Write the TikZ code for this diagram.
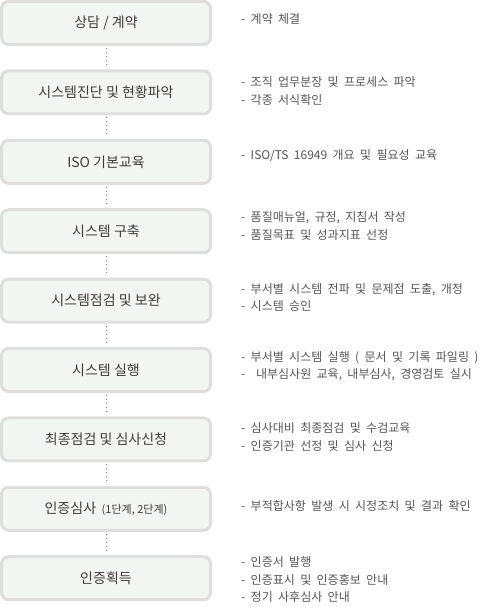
\documentclass[tikz,border=0pt]{standalone}
\usepackage{fontspec}
\setmainfont{Noto Sans CJK KR}
\newfontfamily\notefont[WordSpace=2]{Noto Sans CJK KR}
\definecolor{boxline}{HTML}{DEDEDE}
\definecolor{boxfill}{HTML}{F2F6F2}
\definecolor{labelgray}{HTML}{3C3C3C}
\definecolor{notegray}{HTML}{555555}
\definecolor{dotgray}{HTML}{8C8C8C}
\begin{document}
\begin{tikzpicture}[x=1pt,y=-1pt,
    stepbox/.style={draw=boxline, line width=3pt, fill=boxfill,
      rounded corners=7pt, minimum width=209pt, minimum height=43pt,
      inner sep=0pt, text=labelgray, font=\fontsize{14}{16}\selectfont},
    note/.style={anchor=west, align=left, inner sep=0pt, text=notegray,
      font=\notefont\fontsize{12}{17.5}\selectfont},
    link/.style={dotgray, line width=1pt, dash pattern=on 1pt off 3pt,
      shorten <=2pt, shorten >=2pt}]
    \useasboundingbox (0,0) rectangle (496,607) ;
    \def\P{69.4}
    % process steps
    \foreach \i/\txt in {0/{상담 / 계약}, 1/{시스템진단 및 현황파악},
      2/{ISO 기본교육}, 3/{시스템 구축}, 4/{시스템점검 및 보완},
      5/{시스템 실행}, 6/{최종점검 및 심사신청},
      7/{인증심사 {\fontsize{11}{12}\selectfont ~(1단계, 2단계)}},
      8/{인증획득}} {
      \node [stepbox] (s\i) at (106,{23+\P*\i}) {\txt} ;
    }
    \foreach \i in {0,...,7} { \pgfmathtruncatemacro\j{\i+1}
      \draw [link] (s\i.south) -- (s\j.north) ;
    }
    % notes
    \node [note] (n0) at (241,19) {- 계약 체결} ;
    \node [note] (n1) at (241,91) {- 조직 업무분장 및 프로세스 파악\\- 각종 서식확인} ;
    \node [note] (n2) at (241,156) {- ISO/TS 16949 개요 및 필요성 교육} ;
    \node [note] (n3) at (241,226) {- 품질매뉴얼, 규정, 지침서 작성\\- 품질목표 및 성과지표 선정} ;
    \node [note] (n4) at (241,297.5) {- 부서별 시스템 전파 및 문제점 도출, 개정\\- 시스템 승인} ;
    \node [note] (n5) at (241,366) {- 부서별 시스템 실행 ( 문서 및 기록 파일링 )\\-~ 내부심사원 교육, 내부심사, 경영검토 실시} ;
    \node [note] (n6) at (241,437) {- 심사대비 최종점검 및 수검교육\\- 인증기관 선정 및 심사 신청} ;
    \node [note] (n7) at (241,505.5) {- 부적합사항 발생 시 시정조치 및 결과 확인} ;
    \node [note] (n8) at (241,580) {- 인증서 발행\\- 인증표시 및 인증홍보 안내\\- 정기 사후심사 안내} ;
  \end{tikzpicture}
\end{document}
